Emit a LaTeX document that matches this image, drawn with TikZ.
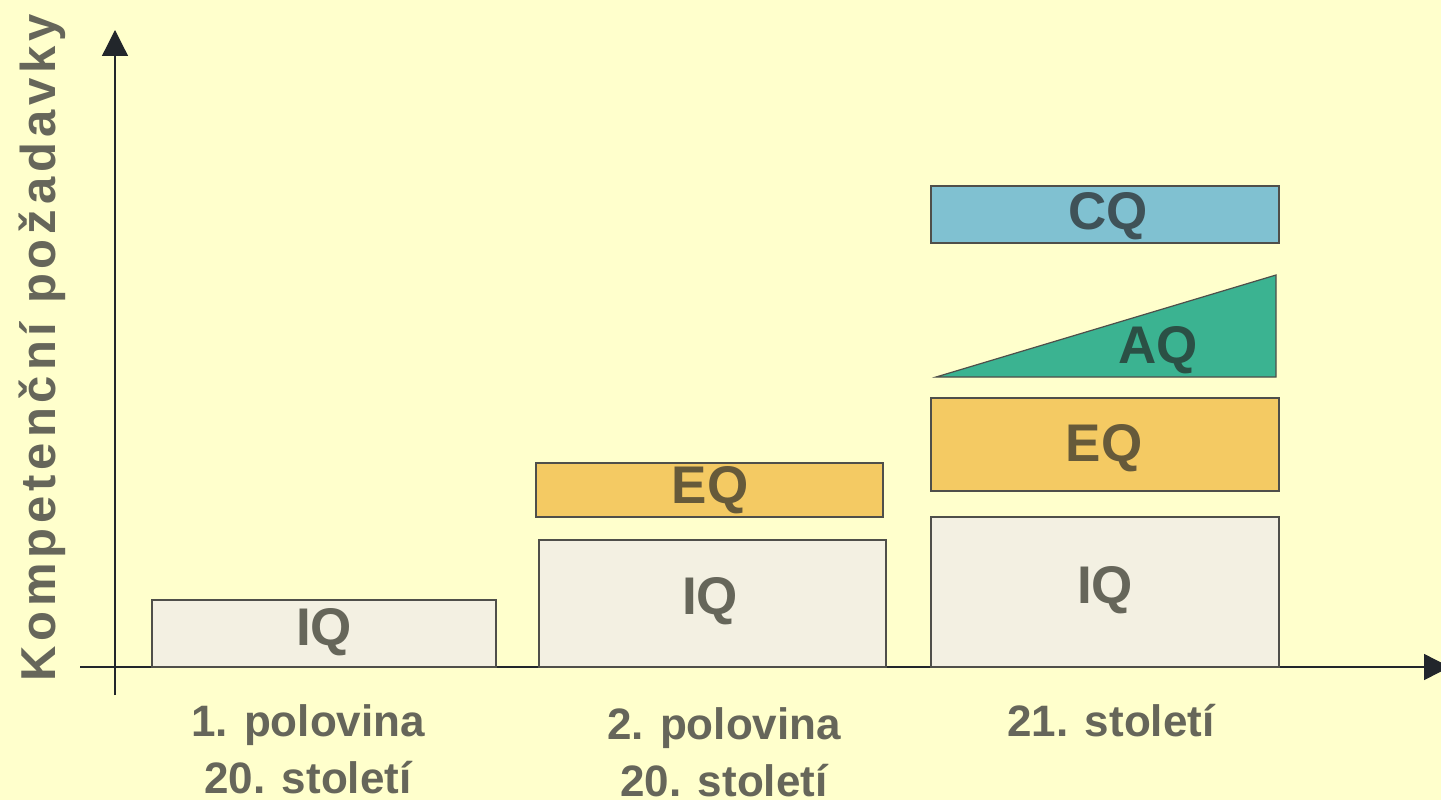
\documentclass[tikz,border=0pt]{standalone}
\usepackage{fontspec}
\setmainfont{Liberation Sans}
\newfontfamily\spacedfont[LetterSpace=10]{Liberation Sans}
\usetikzlibrary{arrows.meta}
\definecolor{bg}{HTML}{FFFFCC}
\definecolor{iqfill}{HTML}{F3F0E2}
\definecolor{eqfill}{HTML}{F4CA63}
\definecolor{aqfill}{HTML}{3BB391}
\definecolor{cqfill}{HTML}{80C1D1}
\definecolor{edge}{HTML}{4F4F4A}
\definecolor{txt}{HTML}{66665A}
\definecolor{eqtxt}{HTML}{665A3A}
\definecolor{aqtxt}{HTML}{2B5045}
\definecolor{cqtxt}{HTML}{3F5258}
\definecolor{axis}{HTML}{22262B}
\tikzset{
  bar/.style={draw=edge, line width=1.2pt},
  big/.style={font=\bfseries\fontsize{53}{60}\selectfont},
  captext/.style={font=\bfseries\fontsize{44}{57}\selectfont, text=txt, align=center},
  ax/.style={draw=axis, line width=1.3pt, -{Triangle[length=26pt,width=26pt]}}
}
\begin{document}
\begin{tikzpicture}[x=1pt,y=-1pt]
\fill[bg] (0,0) rectangle (1441,800);
\useasboundingbox (0,0) rectangle (1441,800);
% axes
\coordinate (yb) at (115,695);
\coordinate (yt) at (115,30);
\coordinate (xl) at (80,667);
\coordinate (xr) at (1450,667);
\draw[ax] (yb) -- (yt);
\begin{scope}
\clip (0,0) rectangle (1441,800);
\draw[ax] (xl) -- (xr);
\end{scope}
% bars
\draw[bar, fill=iqfill] (152,600) rectangle (496,667);
\node[big, text=txt] (iq1) at (324,632) {IQ};
\draw[bar, fill=iqfill] (539,540) rectangle (886,667);
\node[big, text=txt] (iq2) at (710,601) {IQ};
\draw[bar, fill=eqfill] (536,463) rectangle (883,517);
\node[big, text=eqtxt] (eq2) at (710,490) {EQ};
\draw[bar, fill=iqfill] (931,517) rectangle (1279,667);
\node[big, text=txt] (iq3) at (1105,590) {IQ};
\draw[bar, fill=eqfill] (931,398) rectangle (1279,491);
\node[big, text=eqtxt] (eq3) at (1104,448) {EQ};
\draw[bar, fill=aqfill] (936,377) -- (1276,275) -- (1276,377) -- cycle;
\node[big, text=aqtxt] (aq) at (1158,350) {AQ};
\draw[bar, fill=cqfill] (931,186) rectangle (1279,243);
\node[big, text=cqtxt] (cq) at (1108,216) {CQ};
% captions
\node[captext] (c1) at (308,749) {1. polovina\\20. století};
\node[captext] (c2) at (724,752) {2. polovina\\20. století};
\node[captext] (c3) at (1111,721) {21. století};
\node[font=\spacedfont\bfseries\fontsize{49}{55}\selectfont, text=txt, rotate=90] (yl) at (42,348) {Kompetenční požadavky};
\end{tikzpicture}
\end{document}
